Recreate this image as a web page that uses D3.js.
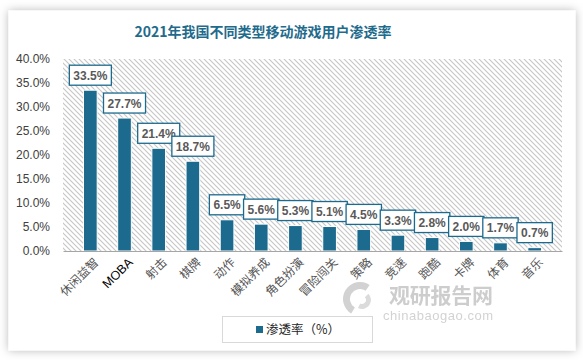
<!DOCTYPE html>
<html><head><meta charset="utf-8">
<script src="https://cdn.jsdelivr.net/npm/d3@7/dist/d3.min.js"></script>
<style>body{margin:0;background:#fff;}svg{display:block;}</style>
</head><body>
<script>
const categories = ["休闲益智","MOBA","射击","棋牌","动作","模拟养成","角色扮演","冒险闯关","策略","竞速","跑酷","卡牌","体育","音乐"];
const values = [33.5,27.7,21.4,18.7,6.5,5.6,5.3,5.1,4.5,3.3,2.8,2.0,1.7,0.7];
const yTicks = [0,5,10,15,20,25,30,35,40];
const title = "2021年我国不同类型移动游戏用户渗透率";
const seriesName = "渗透率（%）";

const W=583,H=360;
const svg=d3.select("body").append("svg").attr("width",W).attr("height",H);
const defs=svg.append("defs");
const f=defs.append("filter").attr("id","sh").attr("x","-10%").attr("y","-10%").attr("width","120%").attr("height","120%");
f.append("feDropShadow").attr("dx",0).attr("dy",0).attr("stdDeviation",5).attr("flood-color","#000").attr("flood-opacity",0.28);
const pat=defs.append("pattern").attr("id","hatch").attr("patternUnits","userSpaceOnUse").attr("width",5).attr("height",5);
pat.append("rect").attr("width",5).attr("height",5).attr("fill","#ffffff");
pat.append("path").attr("d","M-1,-1 L6,6 M-1,4 L1,6 M4,-1 L6,1").attr("stroke","#c6c6c6").attr("stroke-width",1.1);

svg.append("rect").attr("x",8.5).attr("y",10.5).attr("width",567).attr("height",340).attr("fill","#fff").attr("filter","url(#sh)");

const m={l:63,r:562,t:59,b:251};
const x=d3.scaleBand().domain(categories).range([m.l,m.r]).padding(0.6);
const y=d3.scaleLinear().domain([0,40]).range([m.b,m.t]);

svg.append("rect").attr("x",m.l).attr("y",m.t).attr("width",m.r-m.l).attr("height",m.b-m.t).style("fill","url(#hatch)");

svg.append("text").attr("x",263).attr("y",37).attr("text-anchor","middle")
 .attr("font-family","'Noto Sans CJK SC'").attr("font-weight","bold").attr("font-size",14).attr("fill","#1f6b8c").text(title);

// y axis
const ya=svg.append("g").attr("transform",`translate(${m.l},0)`).call(d3.axisLeft(y).tickValues(yTicks).tickSize(0).tickPadding(13).tickFormat(d=>d.toFixed(1)+"%"));
ya.select(".domain").remove();
ya.selectAll("text").attr("font-family","'Liberation Sans'").attr("font-size",12).attr("fill","#404040");

// bars
const data=categories.map((c,i)=>({c,v:values[i]}));
svg.append("g").selectAll("rect").data(data).join("rect")
 .attr("x",d=>x(d.c)).attr("width",x.bandwidth()).attr("y",d=>y(d.v)).attr("height",d=>y(0)-y(d.v))
 .attr("fill","#1c6a8e").attr("stroke","#fff").attr("stroke-width",1);

// x axis
const xa=svg.append("g").attr("transform",`translate(0,${m.b})`).call(d3.axisBottom(x).tickSize(0).tickPadding(0));
xa.select(".domain").attr("stroke","#a6a6a6").attr("stroke-width",1);
xa.selectAll("text").attr("text-anchor","end").attr("transform","translate(6,9) rotate(-45)").attr("dy","0.35em")
 .attr("font-family","'Noto Sans CJK SC'").attr("font-size",12).attr("fill",d=>d==="MOBA"?"#000":"#555");
xa.selectAll("text").filter(d=>d==="MOBA").attr("font-family","'Liberation Sans'").attr("font-size",12.5);

// labels
const lg=svg.append("g").selectAll("g").data(data).join("g");
lg.each(function(d){
  const g=d3.select(this);
  const cx=x(d.c)+x.bandwidth()/2, yb=y(d.v)-5;
  const t=g.append("text").attr("x",cx).attr("y",yb-5.5).attr("text-anchor","middle")
   .attr("font-family","'Liberation Sans'").attr("font-weight","bold").attr("font-size",12).attr("fill","#595959").text(d.v.toFixed(1)+"%");
  const w=t.node().getComputedTextLength()+8;
  g.insert("rect","text").attr("x",cx-w/2).attr("y",yb-20).attr("width",w).attr("height",20)
   .attr("fill","#fff").attr("stroke","#1c6a8e").attr("stroke-width",1.3);
});

// watermark
const wm=svg.append("g").attr("opacity",0.75);
wm.append("path").attr("d",d3.arc()({innerRadius:10,outerRadius:17,startAngle:-2.6,endAngle:0.6})).attr("transform","translate(360,299)").attr("fill","#c4c4c4");
wm.append("path").attr("d",d3.arc()({innerRadius:4,outerRadius:9,startAngle:0.8,endAngle:3.6})).attr("transform","translate(362,300)").attr("fill","#cfcfcf");
wm.append("text").attr("x",389).attr("y",303).attr("font-family","'Noto Sans CJK SC'").attr("font-weight","bold").attr("font-size",21).attr("fill","#bdbdbd").attr("textLength",104).text("观研报告网");
wm.append("text").attr("x",383).attr("y",320).attr("font-family","'Liberation Sans'").attr("font-size",13).attr("fill","#c4c4c4").attr("textLength",110).text("chinabaogao.com");

// legend
svg.append("rect").attr("x",222.5).attr("y",316.5).attr("width",150).attr("height",26).attr("fill","#fff").attr("stroke","#d9d9d9");
svg.append("rect").attr("x",256).attr("y",326).attr("width",7).attr("height",7).attr("fill","#1c6a8e");
svg.append("text").attr("x",266).attr("y",334).attr("font-family","'Noto Sans CJK SC'").attr("font-size",12.5).attr("fill","#262626").text(seriesName);
</script>
</body></html>
